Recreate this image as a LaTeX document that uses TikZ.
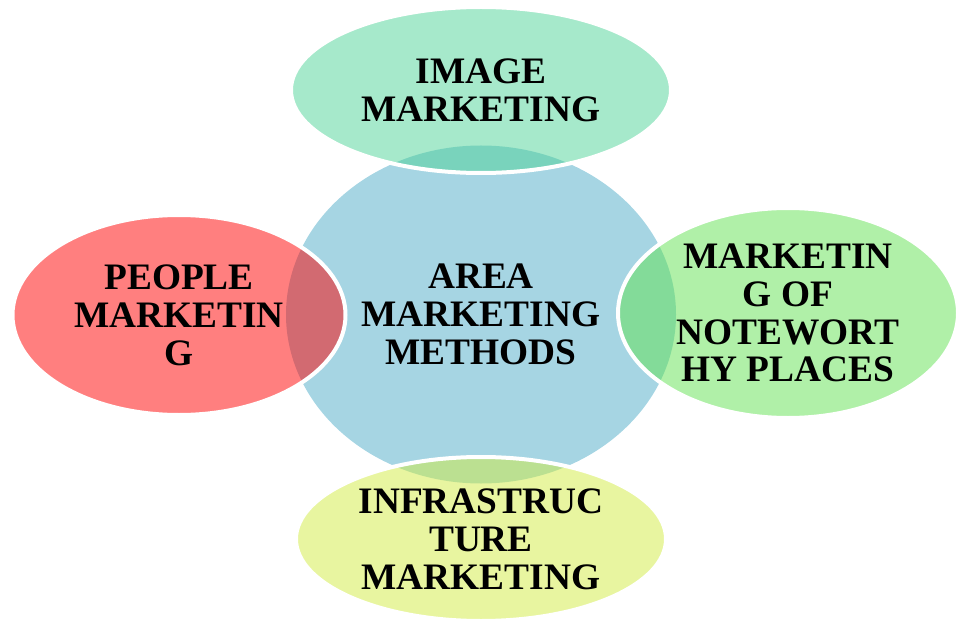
\documentclass[tikz,border=0pt]{standalone}
\usepackage{fontspec}
\setmainfont{Liberation Serif}
\usetikzlibrary{shapes.geometric}
\definecolor{hubblue}{RGB}{166,213,227}
\definecolor{imgteal}{RGB}{77,211,151}
\definecolor{plcgreen}{RGB}{97,225,81}
\definecolor{infyellow}{RGB}{209,235,65}
\definecolor{pplred}{RGB}{255,0,0}
\begin{document}
\begin{tikzpicture}[
                x=1bp, y=-1bp,
                hub/.style={ellipse, fill=hubblue, inner sep=0pt, align=center,
                    font=\bfseries\fontsize{37.5}{38}\selectfont},
                sat/.style={ellipse, draw=white, line width=4bp, fill opacity=0.5,
                    draw opacity=1, text opacity=1, inner sep=0pt, align=center,
                    font=\bfseries\fontsize{37.5}{38}\selectfont}
            ]
            \useasboundingbox (0,0) rectangle (957,621);

            \node[hub, minimum width=390bp, minimum height=338bp] (area) at (481,314.5)
            {AREA\\MARKETING\\METHODS};

            \node[sat, fill=imgteal, minimum width=380bp, minimum height=166bp] (image) at (481,90)
            {IMAGE\\MARKETING};
            \node[sat, fill=pplred, minimum width=333bp, minimum height=200bp] (people) at (179,315)
            {PEOPLE\\MARKETIN\\G};
            \node[sat, fill=plcgreen, minimum width=340bp, minimum height=210bp] (places) at (788,313)
            {MARKETIN\\G OF\\NOTEWORT\\HY PLACES};
            \node[sat, fill=infyellow, minimum width=370bp, minimum height=164bp] (infra) at (481,539)
            {INFRASTRUC\\TURE\\MARKETING};
        \end{tikzpicture}
\end{document}
